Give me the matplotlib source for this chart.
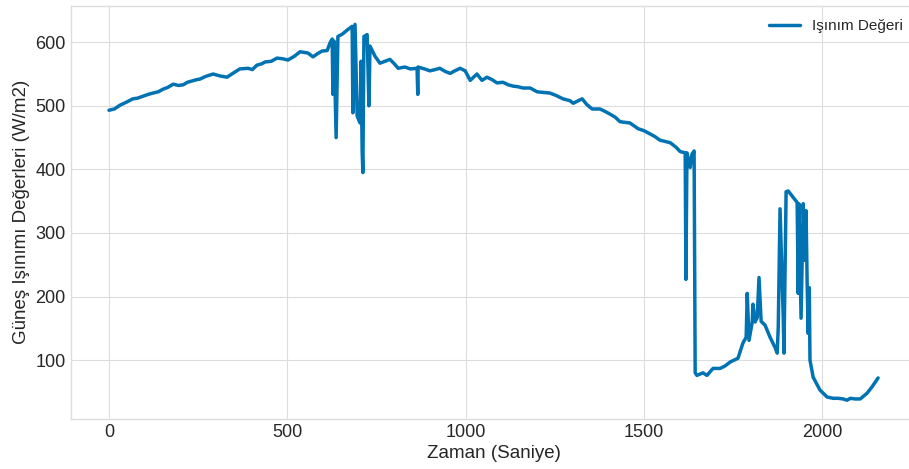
import matplotlib
matplotlib.use("Agg")
import matplotlib.pyplot as plt

# Zaman (s) ve ışınım (W/m2) değerleri
zaman = [
    0, 15, 31, 50, 67, 80, 95, 110, 123, 138, 151, 165, 180, 195, 208, 220,
    233, 245, 255, 270, 292, 311, 331, 350, 367, 390, 402, 415, 428, 438,
    455, 471, 487, 502, 520, 536, 558, 572, 585, 597, 612, 620, 626, 628,
    631, 637, 642, 655, 670, 682, 684, 690, 696, 704, 707, 710, 712, 715,
    724, 729, 732, 746, 760, 774, 788, 802, 811, 830, 845, 864, 866, 867,
    885, 900, 915, 928, 943, 957, 970, 985, 999, 1013, 1032, 1046, 1060,
    1075, 1088, 1105, 1120, 1133, 1147, 1161, 1181, 1201, 1220, 1237, 1255,
    1273, 1293, 1302, 1327, 1340, 1355, 1377, 1392, 1405, 1420, 1433, 1447,
    1461, 1484, 1500, 1517, 1530, 1545, 1560, 1574, 1590, 1602, 1616, 1618,
    1621, 1630, 1635, 1641, 1644, 1649, 1657, 1666, 1677, 1694, 1714, 1728,
    1742, 1764, 1778, 1787, 1790, 1795, 1804, 1806, 1812, 1818, 1823, 1829,
    1840, 1854, 1868, 1874, 1877, 1882, 1891, 1893, 1899, 1905, 1930, 1933,
    1935, 1941, 1947, 1952, 1955, 1958, 1961, 1964, 1966, 1975, 1994, 2014,
    2031, 2045, 2059, 2070, 2079, 2092, 2107, 2126, 2140, 2157,
]
isinim = [
    493, 495, 501, 506, 511, 512, 515, 518, 520, 522, 526, 529, 534, 532,
    533, 537, 539, 541, 542, 546, 550, 547, 545, 552, 558, 559, 557, 564,
    566, 569, 570, 575, 574, 572, 578, 585, 583, 577, 582, 586, 587, 599,
    605, 518, 602, 450, 609, 613, 620, 625, 489, 628, 484, 473, 570, 429,
    395, 609, 612, 500, 594, 578, 567, 570, 573, 565, 559, 561, 558, 559,
    518, 561, 558, 555, 557, 559, 554, 551, 555, 559, 555, 540, 550, 540,
    545, 541, 536, 537, 533, 531, 530, 528, 528, 522, 521, 520, 516, 511,
    508, 504, 511, 502, 495, 495, 491, 487, 482, 475, 474, 473, 464, 461,
    456, 452, 446, 444, 442, 435, 428, 426, 227, 426, 403, 424, 429, 80,
    76, 78, 80, 76, 87, 87, 91, 97, 103, 127, 136, 205, 131, 160, 188, 160,
    167, 230, 161, 155, 136, 120, 111, 152, 338, 167, 111, 365, 366, 348,
    205, 346, 166, 346, 257, 335, 221, 142, 214, 100, 73, 53, 42, 40, 40,
    39, 37, 40, 39, 39, 48, 58, 72,
]

plt.style.use("seaborn-v0_8-whitegrid")
plt.rcParams["font.family"] = ["Liberation Sans", "DejaVu Sans"]

fig = plt.figure(figsize=(9.09, 4.69), dpi=100)
ax = fig.add_axes([0.0776, 0.1066, 0.9307, 0.8814])

ax.plot(zaman, isinim, color="#0173b2", linewidth=2.5, label="Işınım Değeri")

ax.set_xlabel("Zaman (Saniye)", fontsize=13.5, labelpad=3)
ax.set_ylabel("Güneş Işınımı Değerleri (W/m2)", fontsize=13.5)
ax.tick_params(axis="both", labelsize=13)
ax.grid(True, color="#dddddd")
for s in ax.spines.values():
    s.set_visible(True)
    s.set_color("#dddddd")
ax.legend(loc="upper right", fontsize=11, frameon=False)

fig.savefig("out.png", dpi=100)
